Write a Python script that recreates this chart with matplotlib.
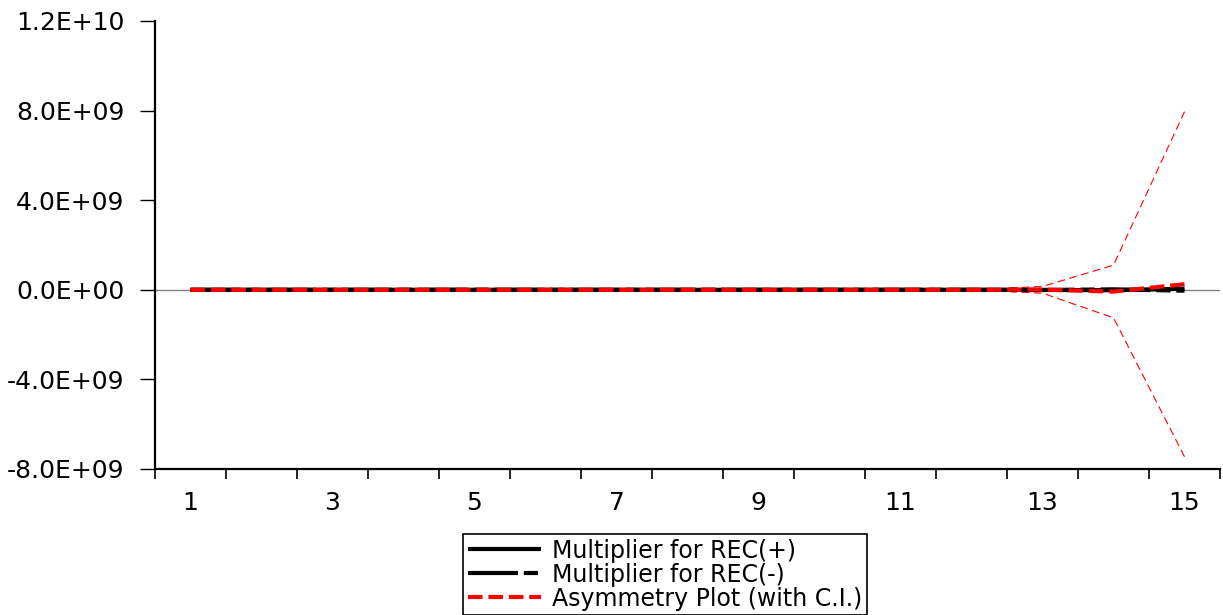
import matplotlib
matplotlib.use("Agg")
import matplotlib.pyplot as plt
import numpy as np

# horizon (periods)
periods = list(range(1, 16))

# cumulative dynamic multipliers
rec_pos = [0.0, 0.0, 0.0, 0.0, 0.0, 0.0, 0.0, 0.0, 0.0, 0.0, 0.0, 0.0, -5e6, -2e7, 5e7]
rec_neg = [0.0, 0.0, 0.0, 0.0, 0.0, 0.0, 0.0, 0.0, 0.0, 0.0, 0.0, 0.0, -1e7, 2e7, -4e7]
asym = [0.0, 0.0, 0.0, 0.0, 0.0, 0.0, 0.0, 0.0, 0.0, 0.0, 0.0, 0.0, 1e7, -8e7, 2.5e8]
ci_upper = [0.0, 0.0, 0.0, 0.0, 0.0, 0.0, 0.0, 0.0, 0.0, 0.0, 0.0, 1e7, 1.5e8, 1.1e9, 7.95e9]
ci_lower = [0.0, 0.0, 0.0, 0.0, 0.0, 0.0, 0.0, 0.0, 0.0, 0.0, 0.0, -1e7, -1.5e8, -1.25e9, -7.45e9]

x_labels = [1, 3, 5, 7, 9, 11, 13, 15]
y_ticks = [-8e9, -4e9, 0, 4e9, 8e9, 1.2e10]

plt.rcParams['font.family'] = ['DejaVu Sans']

W, H = 1223, 615
fig = plt.figure(figsize=(W / 100, H / 100), dpi=100)
ax = fig.add_axes([155 / W, 1 - 469 / H, (1220 - 155) / W, (469 - 21) / H])

ax.axhline(0, color='#808080', lw=1.0, zorder=1)

ax.plot(periods, rec_pos, color='black', lw=3, solid_capstyle='butt',
        label='Multiplier for REC(+)', zorder=3)
ax.plot(periods, rec_neg, color='black', lw=3, dashes=(12, 1.4, 3.4, 1.4),
        label='Multiplier for REC(-)', zorder=3)
ax.plot(periods, asym, color='red', lw=3, dashes=(3.5, 1.4),
        label='Asymmetry Plot (with C.I.)', zorder=4)
ax.plot(periods, ci_upper, color='red', lw=0.8, dashes=(7, 4), zorder=2)
ax.plot(periods, ci_lower, color='red', lw=0.8, dashes=(7, 4), zorder=2)

ax.set_xlim(0.5, 15.5)
ax.set_ylim(-8e9, 1.2e10)

ax.set_xticks(x_labels)
ax.set_xticklabels([str(v) for v in x_labels])
ax.set_xticks(np.arange(0.5, 16, 1.0), minor=True)
ax.tick_params(axis='x', which='major', length=0, pad=16, labelsize=18)
ax.tick_params(axis='x', which='minor', length=7, width=1.2, direction='out')

ax.set_yticks(y_ticks)
ax.set_yticklabels(['%.1E' % v for v in y_ticks])
ax.tick_params(axis='y', length=11, width=1.0, pad=11, labelsize=18)

for s in ['top', 'right']:
    ax.spines[s].set_visible(False)
for s in ['left', 'bottom']:
    ax.spines[s].set_linewidth(1.6)

leg = fig.legend(loc='upper left', bbox_to_anchor=(463 / W, 1 - 534 / H),
                 bbox_transform=fig.transFigure, fontsize=17,
                 handlelength=3.1, handletextpad=0.45, labelspacing=0.0,
                 borderpad=0.2, borderaxespad=0, fancybox=False,
                 framealpha=1, edgecolor='black')
leg.get_frame().set_linewidth(1.2)

fig.savefig('out.png', dpi=100)
